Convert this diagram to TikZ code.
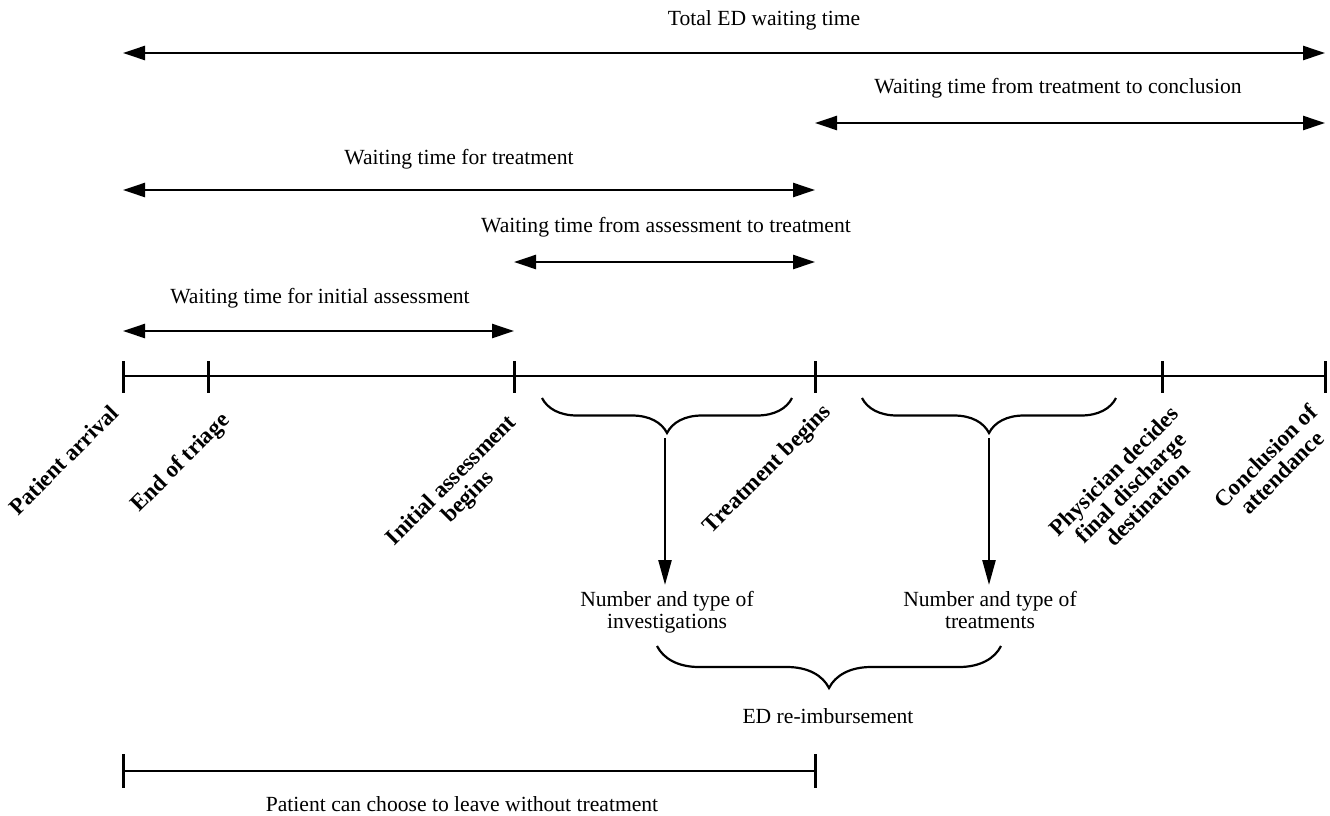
\documentclass[tikz,border=0pt]{standalone}
\usepackage{fontspec}
\setmainfont{Liberation Serif}
\usetikzlibrary{arrows.meta,decorations.pathreplacing}
\begin{document}
\begin{tikzpicture}[x=1pt,y=-1pt,
  lbl/.style={font=\fontsize{21.6}{22.5}\selectfont, inner sep=0pt, anchor=base},
  two/.style={font=\fontsize{21.6}{22.5}\selectfont, inner sep=0pt, anchor=north, align=center},
  tlbl/.style={font=\fontsize{23}{23.5}\selectfont\bfseries, inner sep=0pt, rotate=45, anchor=north east, align=center},
  dbl/.style={line width=2.5pt, {Triangle[length=22pt,width=14pt]}-{Triangle[length=22pt,width=14pt]}},
  darrow/.style={line width=2.5pt, -{Triangle[length=25pt,width=13pt]}, shorten >=6pt},
  bar/.style={line width=2.7pt},
  tickmark/.style={line width=3pt},
  brc/.style={decorate, decoration={brace, amplitude=#1, mirror}, line width=2.2pt},
]
\useasboundingbox (0,0) rectangle (1330,815);

% main timeline
\coordinate (t0) at (123,376);
\coordinate (t1) at (208,376);
\coordinate (t2) at (514,376);
\coordinate (t3) at (815,376);
\coordinate (t4) at (1162,376);
\coordinate (t5) at (1325,376);
\draw[bar] (t0) -- (t5);
\foreach \t in {t0,t1,t2,t3,t4,t5}
  \draw[tickmark] ([yshift=15pt]\t) -- ([yshift=-17pt]\t);

% interval arrows
\coordinate (a1l) at (123,53);   \coordinate (a1r) at (1325,53);
\coordinate (a2l) at (815,123);  \coordinate (a2r) at (1325,123);
\coordinate (a3l) at (123,190);  \coordinate (a3r) at (815,190);
\coordinate (a4l) at (514,262);  \coordinate (a4r) at (815,262);
\coordinate (a5l) at (123,331);  \coordinate (a5r) at (514,331);
\draw[dbl] (a1l) -- (a1r);
\draw[dbl] (a2l) -- (a2r);
\draw[dbl] (a3l) -- (a3r);
\draw[dbl] (a4l) -- (a4r);
\draw[dbl] (a5l) -- (a5r);
\node[lbl] (l1) at (764,25) {Total ED waiting time};
\node[lbl] (l2) at (1058,93) {Waiting time from treatment to conclusion};
\node[lbl] (l3) at (459,164) {Waiting time for treatment};
\node[lbl] (l4) at (666,232) {Waiting time from assessment to treatment};
\node[lbl] (l5) at (320,303) {Waiting time for initial assessment};

% event labels
\node[tlbl] (e0) at (109,403) {Patient arrival};
\node[tlbl] (e1) at (219,410) {End of triage};
\node[tlbl] (e2) at (506,412) {Initial assessment\\begins};
\node[tlbl] (e3) at (821,402) {Treatment begins};
\node[tlbl] (e4) at (1169,404) {Physician decides\\final discharge\\destination};
\node[tlbl] (e5) at (1307,402) {Conclusion of\\attendance};

% braces and arrows
\coordinate (b1l) at (542,398); \coordinate (b1r) at (792,398);
\coordinate (b2l) at (862,398); \coordinate (b2r) at (1116,398);
\draw[brc=35pt] (b1l) -- (b1r);
\draw[brc=35pt] (b2l) -- (b2r);
\coordinate (b1c) at (665,438);
\coordinate (b2c) at (989,438);
\node[two] (inv) at (667,591) {Number and type of\\investigations};
\node[two] (trt) at (990,591) {Number and type of\\treatments};
\draw[darrow] (b1c) -- (b1c |- inv.north);
\draw[darrow] (b2c) -- (b2c |- trt.north);

\coordinate (b3l) at (657,646); \coordinate (b3r) at (1001,646);
\draw[brc=42pt] (b3l) -- (b3r);
\node[lbl] (reimb) at (828,723) {ED re-imbursement};

% leave without treatment
\coordinate (p0) at (123,771);
\coordinate (p1) at (815,771);
\draw[bar] (p0) -- (p1);
\draw[tickmark] ([yshift=17pt]p0) -- ([yshift=-17pt]p0);
\draw[tickmark] ([yshift=17pt]p1) -- ([yshift=-17pt]p1);
\node[lbl] (leave) at (462,811) {Patient can choose to leave without treatment};
\end{tikzpicture}
\end{document}
